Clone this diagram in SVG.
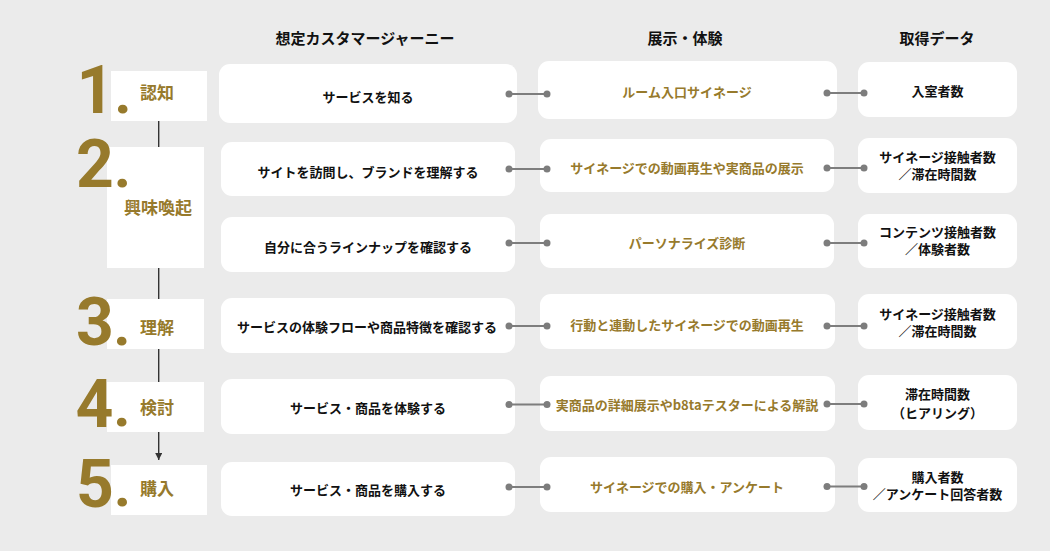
<svg xmlns="http://www.w3.org/2000/svg" width="1050" height="551" viewBox="0 0 1050 551">
<defs>
<style>
.bg{fill:#ebebeb}
.card{fill:#ffffff}
.step{fill:#ffffff}
.t{font-family:"Noto Sans CJK JP","Noto Sans CJK SC",sans-serif;font-weight:700;font-size:13px;fill:#111111;text-anchor:middle}
.g{fill:#977a2c}
.hd{font-family:"Noto Sans CJK JP",sans-serif;font-weight:700;font-size:15px;fill:#111111;text-anchor:middle}
.lbl{font-family:"Noto Sans CJK JP",sans-serif;font-weight:700;font-size:17px;fill:#977a2c;text-anchor:middle}
.num{font-family:Roboto,"Noto Sans",sans-serif;font-weight:700;font-size:66px;fill:#977a2c;text-anchor:middle}
.dot{font-size:60px}
.ln{stroke:#7d7d7d;stroke-width:2;fill:none}
.pt{fill:#7d7d7d}
.vl{stroke:#333333;stroke-width:1.4;fill:none}
</style>
<marker id="arr" viewBox="0 0 10 10" refX="10" refY="5" markerWidth="7" markerHeight="7" markerUnits="userSpaceOnUse" orient="auto">
<path d="M0,0 L10,5 L0,10 z" fill="#333333"/>
</marker>
</defs>
<rect class="bg" x="0" y="0" width="1050" height="551"/>

<g id="headers">
<text class="hd" x="365" y="44">想定カスタマージャーニー</text>
<text class="hd" x="685" y="44">展示・体験</text>
<text class="hd" x="937" y="44">取得データ</text>
</g>

<g id="timeline">
<line class="vl" x1="158.7" y1="121" x2="158.7" y2="147"/>
<line class="vl" x1="158.7" y1="268" x2="158.7" y2="299"/>
<line class="vl" x1="158.7" y1="349" x2="158.7" y2="382"/>
<line class="vl" x1="158.7" y1="432" x2="158.7" y2="460" marker-end="url(#arr)"/>
</g>

<g id="step1">
<rect class="step" x="111" y="71" width="96" height="50"/>
<text class="num" y="113"><tspan x="95.5">1</tspan><tspan class="dot" x="123">.</tspan></text>
<text class="lbl" x="157" y="99">認知</text>
</g>
<g id="step2">
<rect class="step" x="107" y="147" width="97" height="121"/>
<text class="num" y="187"><tspan x="95">2</tspan><tspan class="dot" x="122.5">.</tspan></text>
<text class="lbl" x="158" y="214">興味喚起</text>
</g>
<g id="step3">
<rect class="step" x="107" y="299" width="97" height="50"/>
<text class="num" y="345"><tspan x="95">3</tspan><tspan class="dot" x="122">.</tspan></text>
<text class="lbl" x="157" y="334">理解</text>
</g>
<g id="step4">
<rect class="step" x="107" y="382" width="97" height="50"/>
<text class="num" y="427"><tspan x="94.5">4</tspan><tspan class="dot" x="122" dy="-1">.</tspan></text>
<text class="lbl" x="157" y="414">検討</text>
</g>
<g id="step5">
<rect class="step" x="111" y="465" width="96" height="50"/>
<text class="num" y="507"><tspan x="95">5</tspan><tspan class="dot" x="122.5" dy="-1">.</tspan></text>
<text class="lbl" x="157" y="495">購入</text>
</g>

<g id="journey1"><rect class="card" x="219" y="64" width="298" height="59" rx="11"/><text class="t" x="368" y="102">サービスを知る</text></g>
<g id="journey2"><rect class="card" x="221" y="142" width="294" height="54" rx="11"/><text class="t" x="368" y="177">サイトを訪問し、ブランドを理解する</text></g>
<g id="journey3"><rect class="card" x="221" y="217" width="294" height="55" rx="11"/><text class="t" x="368" y="252">自分に合うラインナップを確認する</text></g>
<g id="journey4"><rect class="card" x="221" y="298" width="294" height="55" rx="11"/><text class="t" x="367" y="332">サービスの体験フローや商品特徴を確認する</text></g>
<g id="journey5"><rect class="card" x="221" y="379" width="294" height="55" rx="11"/><text class="t" x="368" y="413">サービス・商品を体験する</text></g>
<g id="journey6"><rect class="card" x="221" y="462" width="294" height="54" rx="11"/><text class="t" x="368" y="495">サービス・商品を購入する</text></g>

<g id="exhibit1"><rect class="card" x="538" y="61" width="299" height="58" rx="11"/><text class="t g" x="687" y="97">ルーム入口サイネージ</text></g>
<g id="exhibit2"><rect class="card" x="540" y="139" width="294" height="53" rx="11"/><text class="t g" x="687" y="173">サイネージでの動画再生や実商品の展示</text></g>
<g id="exhibit3"><rect class="card" x="540" y="214" width="294" height="54" rx="11"/><text class="t g" x="687" y="248">パーソナライズ診断</text></g>
<g id="exhibit4"><rect class="card" x="540" y="294" width="295" height="55" rx="11"/><text class="t g" x="687" y="330">行動と連動したサイネージでの動画再生</text></g>
<g id="exhibit5"><rect class="card" x="540" y="376" width="295" height="55" rx="11"/><text class="t g" x="687" y="410">実商品の詳細展示やb8taテスターによる解説</text></g>
<g id="exhibit6"><rect class="card" x="540" y="457" width="295" height="55" rx="11"/><text class="t g" x="687" y="492">サイネージでの購入・アンケート</text></g>

<g id="data1"><rect class="card" x="858" y="62" width="159" height="55" rx="11"/><text class="t" x="937.5" y="96">入室者数</text></g>
<g id="data2"><rect class="card" x="858" y="138" width="159" height="55" rx="11"/><text class="t" x="937.5" y="162">サイネージ接触者数</text><text class="t" x="937.5" y="179">／滞在時間数</text></g>
<g id="data3"><rect class="card" x="858" y="214" width="159" height="54" rx="11"/><text class="t" x="937.5" y="237">コンテンツ接触者数</text><text class="t" x="937.5" y="254">／体験者数</text></g>
<g id="data4"><rect class="card" x="858" y="294" width="159" height="55" rx="11"/><text class="t" x="937.5" y="318.5">サイネージ接触者数</text><text class="t" x="937.5" y="335.5">／滞在時間数</text></g>
<g id="data5"><rect class="card" x="858" y="375" width="159" height="55" rx="11"/><text class="t" x="937.5" y="398.5">滞在時間数</text><text class="t" x="937.5" y="418">（ヒアリング）</text></g>
<g id="data6"><rect class="card" x="858" y="458" width="159" height="54" rx="11"/><text class="t" x="937.5" y="482">購入者数</text><text class="t" x="937.5" y="499">／アンケート回答者数</text></g>

<g id="connectors">
<line class="ln" x1="509" y1="94" x2="547" y2="94"/><circle class="pt" cx="509" cy="94" r="3.5"/><circle class="pt" cx="547" cy="94" r="3.5"/>
<line class="ln" x1="827" y1="93" x2="864" y2="93"/><circle class="pt" cx="827" cy="93" r="3.5"/><circle class="pt" cx="864" cy="93" r="3.5"/>
<line class="ln" x1="509" y1="169" x2="547" y2="169"/><circle class="pt" cx="509" cy="169" r="3.5"/><circle class="pt" cx="547" cy="169" r="3.5"/>
<line class="ln" x1="827" y1="168" x2="864" y2="168"/><circle class="pt" cx="827" cy="168" r="3.5"/><circle class="pt" cx="864" cy="168" r="3.5"/>
<line class="ln" x1="509" y1="243" x2="547" y2="243"/><circle class="pt" cx="509" cy="243" r="3.5"/><circle class="pt" cx="547" cy="243" r="3.5"/>
<line class="ln" x1="827" y1="243" x2="864" y2="243"/><circle class="pt" cx="827" cy="243" r="3.5"/><circle class="pt" cx="864" cy="243" r="3.5"/>
<line class="ln" x1="509" y1="326" x2="547" y2="326"/><circle class="pt" cx="509" cy="326" r="3.5"/><circle class="pt" cx="547" cy="326" r="3.5"/>
<line class="ln" x1="827" y1="326" x2="864" y2="326"/><circle class="pt" cx="827" cy="326" r="3.5"/><circle class="pt" cx="864" cy="326" r="3.5"/>
<line class="ln" x1="509" y1="404.5" x2="547" y2="404.5"/><circle class="pt" cx="509" cy="404.5" r="3.5"/><circle class="pt" cx="547" cy="404.5" r="3.5"/>
<line class="ln" x1="827" y1="404" x2="864" y2="404"/><circle class="pt" cx="827" cy="404" r="3.5"/><circle class="pt" cx="864" cy="404" r="3.5"/>
<line class="ln" x1="509" y1="487" x2="547" y2="487"/><circle class="pt" cx="509" cy="487" r="3.5"/><circle class="pt" cx="547" cy="487" r="3.5"/>
<line class="ln" x1="827" y1="486.5" x2="864" y2="486.5"/><circle class="pt" cx="827" cy="486.5" r="3.5"/><circle class="pt" cx="864" cy="486.5" r="3.5"/>
</g>
</svg>
